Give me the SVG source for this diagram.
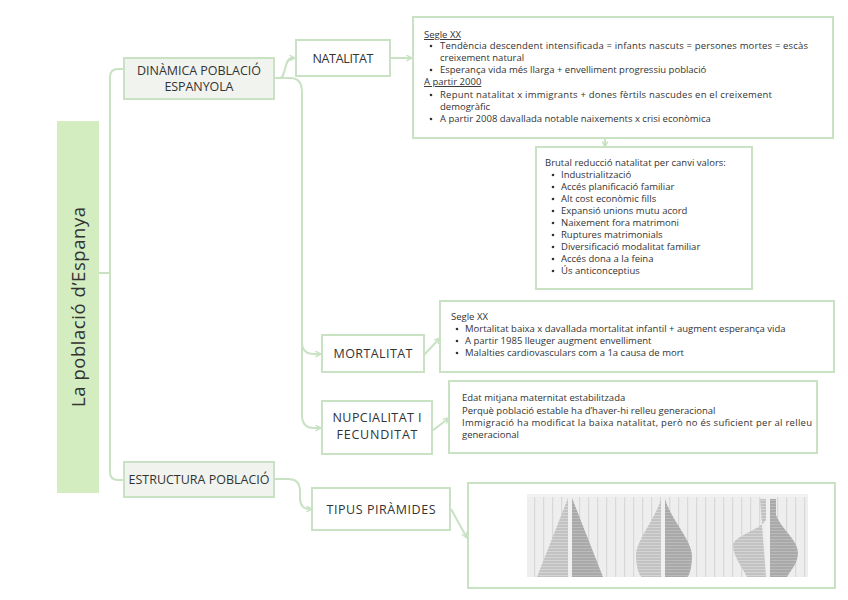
<svg xmlns="http://www.w3.org/2000/svg" width="848" height="600" viewBox="0 0 848 600">
<style>
.box{fill:#fff;stroke:#c8e2c3;stroke-width:2}
.gbox{fill:#f1f3ee;stroke:#c8e2c3;stroke-width:2}
.lbl{font-family:"Open Sans","Liberation Sans",sans-serif;font-size:12.5px;fill:#333;text-anchor:middle}
.txt{font-family:"Open Sans","Liberation Sans",sans-serif;font-size:9.5px;fill:#333}
.conn path{fill:none;stroke:#c8e2c3;stroke-width:2}
.bul{fill:#333}
</style>
<defs>
<marker id="arr" viewBox="0 0 10 10" refX="9" refY="5" markerWidth="7" markerHeight="7" markerUnits="userSpaceOnUse" orient="auto">
<path d="M1,1 L9,5 L1,9" fill="none" stroke="#c8e2c3" stroke-width="2"/>
</marker>
<pattern id="hl" width="4" height="3" patternUnits="userSpaceOnUse">
<rect width="4" height="3" fill="#c2c2c2"/>
<rect y="2" width="4" height="1" fill="#d4d4d4"/>
</pattern>
<pattern id="hd" width="4" height="3" patternUnits="userSpaceOnUse">
<rect width="4" height="3" fill="#a9a9a9"/>
<rect y="2" width="4" height="1" fill="#bababa"/>
</pattern>
<pattern id="vl" width="9" height="10" patternUnits="userSpaceOnUse">
<rect width="9" height="10" fill="#eeeeee"/>
<rect x="3" width="1.2" height="10" fill="#d9d9d9"/>
</pattern>
</defs>

<g class="conn" id="connectors">
<path d="M99,273 H110"/>
<path d="M124,69 H118 Q110,69 110,77 V472 Q110,480 118,480 H124"/>
<path d="M274,78 H280 C286,78 284,58 292,58 H295" marker-end="url(#arr)"/>
<path d="M274,78 H290 Q302,78 302,92 V342 Q302,354 314,354 H321" marker-end="url(#arr)"/>
<path d="M302,340 V415 Q302,428 314,428 H321" marker-end="url(#arr)"/>
<path d="M274,479 H288 Q300,479 300,491 V498 Q300,509 310,509 H312" marker-end="url(#arr)"/>
<path d="M390,58 H412" marker-end="url(#arr)"/>
<path d="M605,138 V147" marker-end="url(#arr)"/>
<path d="M424,355 L440,338" marker-end="url(#arr)"/>
<path d="M432,431 L449,418" marker-end="url(#arr)"/>
<path d="M451,509 L467,538" marker-end="url(#arr)"/>
</g>

<g id="root">
<rect x="57" y="121" width="42" height="372" fill="#d3edc0"/>
<text transform="translate(85,307) rotate(-90)" font-family="'Open Sans','Liberation Sans',sans-serif" font-size="18.5" fill="#333" text-anchor="middle" textLength="200" lengthAdjust="spacing">La població d’Espanya</text>
</g>

<g id="dinamica">
<rect class="gbox" x="124" y="58" width="150" height="41"/>
<text class="lbl" x="199" y="75" textLength="124" lengthAdjust="spacing">DINÀMICA POBLACIÓ</text>
<text class="lbl" x="199" y="91" textLength="69" lengthAdjust="spacing">ESPANYOLA</text>
</g>

<g id="estructura">
<rect class="gbox" x="124" y="462" width="150" height="35"/>
<text class="lbl" x="199" y="484" font-size="11.5" textLength="141" lengthAdjust="spacing">ESTRUCTURA POBLACIÓ</text>
</g>

<g id="natalitat">
<rect class="box" x="296" y="40" width="94" height="36"/>
<text class="lbl" x="343" y="63" textLength="61" lengthAdjust="spacing">NATALITAT</text>
</g>

<g id="mortalitat">
<rect class="box" x="322" y="335" width="102" height="37"/>
<text class="lbl" x="373" y="358" textLength="79" lengthAdjust="spacing">MORTALITAT</text>
</g>

<g id="nupcialitat">
<rect class="box" x="322" y="401" width="110" height="53"/>
<text class="lbl" x="377" y="422" textLength="89" lengthAdjust="spacing">NUPCIALITAT I</text>
<text class="lbl" x="377" y="439" textLength="81" lengthAdjust="spacing">FECUNDITAT</text>
</g>

<g id="tipus">
<rect class="box" x="312" y="488" width="138" height="42"/>
<text class="lbl" x="381" y="514" textLength="109" lengthAdjust="spacing">TIPUS PIRÀMIDES</text>
</g>

<g id="natalitat-detail">
<rect class="box" x="413" y="17" width="420" height="121"/>
<text class="txt" x="424" y="38" text-decoration="underline">Segle XX</text>
<circle class="bul" cx="431" cy="46" r="1.3"/>
<text class="txt" x="440" y="49" textLength="368" lengthAdjust="spacing">Tendència descendent intensificada = infants nascuts = persones mortes = escàs</text>
<text class="txt" x="440" y="61">creixement natural</text>
<circle class="bul" cx="431" cy="70" r="1.3"/>
<text class="txt" x="440" y="73">Esperança vida més llarga + envelliment progressiu població</text>
<text class="txt" x="424" y="85" text-decoration="underline">A partir 2000</text>
<circle class="bul" cx="431" cy="95" r="1.3"/>
<text class="txt" x="440" y="98" textLength="332" lengthAdjust="spacing">Repunt natalitat x immigrants + dones fèrtils nascudes en el creixement</text>
<text class="txt" x="440" y="110">demogràfic</text>
<circle class="bul" cx="431" cy="119" r="1.3"/>
<text class="txt" x="440" y="122">A partir 2008 davallada notable naixements x crisi econòmica</text>
</g>

<g id="natalitat-valors">
<rect class="box" x="536" y="147" width="216" height="142"/>
<text class="txt" x="545" y="166">Brutal reducció natalitat per canvi valors:</text>
<g class="bul">
<circle cx="553" cy="175" r="1.3"/><circle cx="553" cy="187" r="1.3"/><circle cx="553" cy="199" r="1.3"/>
<circle cx="553" cy="211" r="1.3"/><circle cx="553" cy="223" r="1.3"/><circle cx="553" cy="235" r="1.3"/>
<circle cx="553" cy="247" r="1.3"/><circle cx="553" cy="259" r="1.3"/><circle cx="553" cy="271" r="1.3"/>
</g>
<text class="txt" x="561" y="178">Industrialització</text>
<text class="txt" x="561" y="190">Accés planificació familiar</text>
<text class="txt" x="561" y="202">Alt cost econòmic fills</text>
<text class="txt" x="561" y="214">Expansió unions mutu acord</text>
<text class="txt" x="561" y="226">Naixement fora matrimoni</text>
<text class="txt" x="561" y="238">Ruptures matrimonials</text>
<text class="txt" x="561" y="250">Diversificació modalitat familiar</text>
<text class="txt" x="561" y="262">Accés dona a la feina</text>
<text class="txt" x="561" y="274">Ús anticonceptius</text>
</g>

<g id="mortalitat-detail">
<rect class="box" x="440" y="301" width="394" height="71"/>
<text class="txt" x="451" y="320" font-size="9.4">Segle XX</text>
<circle class="bul" cx="457" cy="329" r="1.3"/>
<text class="txt" x="465" y="332" font-size="9.4">Mortalitat baixa x davallada mortalitat infantil + augment esperança vida</text>
<circle class="bul" cx="457" cy="341" r="1.3"/>
<text class="txt" x="465" y="344" font-size="9.4">A partir 1985 lleuger augment envelliment</text>
<circle class="bul" cx="457" cy="353" r="1.3"/>
<text class="txt" x="465" y="356" font-size="9.4">Malalties cardiovasculars com a 1a causa de mort</text>
</g>

<g id="nupcialitat-detail">
<rect class="box" x="449" y="381" width="368" height="72"/>
<text class="txt" x="462" y="401">Edat mitjana maternitat estabilitzada</text>
<text class="txt" x="462" y="414">Perquè població estable ha d’haver-hi relleu generacional</text>
<text class="txt" x="462" y="426" textLength="350" lengthAdjust="spacing">Immigració ha modificat la baixa natalitat, però no és suficient per al relleu</text>
<text class="txt" x="462" y="438">generacional</text>
</g>

<g id="piramides">
<rect class="box" x="468" y="483" width="367" height="105"/>
<rect x="527" y="494" width="281" height="83" fill="url(#vl)"/>
<rect x="527" y="494" width="281" height="3" fill="#f2f2f2"/>
<polygon points="568,498 537,577 568,577" fill="url(#hl)"/>
<polygon points="572,498 603,577 572,577" fill="url(#hd)"/>
<rect x="568" y="496" width="4" height="81" fill="#f0f0f0"/>
<path d="M661,499 C655,520 636,540 636,556 C636,568 640,577 642,577 H661 Z" fill="url(#hl)"/>
<path d="M665,499 C671,520 692,540 692,556 C692,568 689,577 687,577 H665 Z" fill="url(#hd)"/>
<rect x="661" y="496" width="4" height="81" fill="#f0f0f0"/>
<path d="M760,499 H766 V520 C760,530 734,536 733,545 C733,556 741,565 747,577 H766 Z" fill="url(#hl)"/>
<path d="M770,499 H776 V515 C782,530 798,540 798,553 C798,563 791,570 787,577 H770 Z" fill="url(#hd)"/>
<rect x="766" y="496" width="4" height="81" fill="#f0f0f0"/>
</g>
</svg>
